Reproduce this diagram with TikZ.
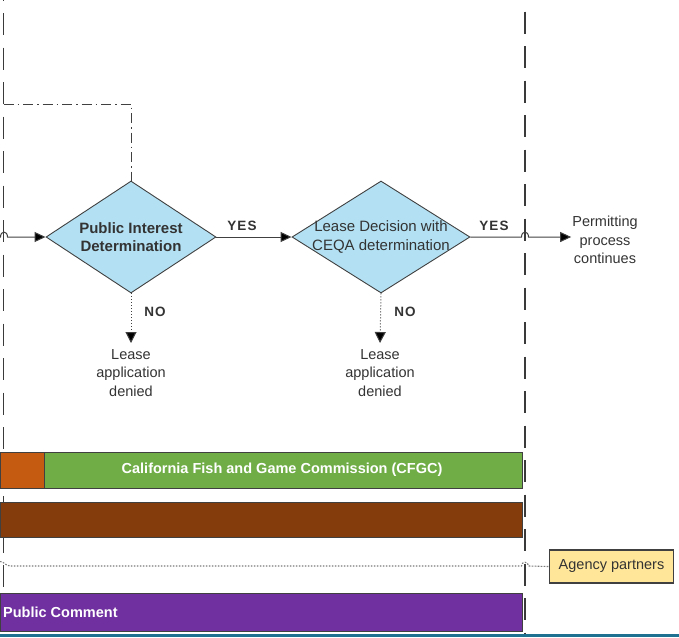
\documentclass[tikz,border=0pt]{standalone}
\usepackage{fontspec}
\setmainfont{Liberation Sans}
\usetikzlibrary{shapes.geometric,arrows.meta}

\definecolor{lanegray}{HTML}{3A3A3A}
\definecolor{edgegray}{HTML}{404040}
\definecolor{txtgray}{HTML}{333333}
\definecolor{dotgray}{HTML}{7A7A7A}
\definecolor{decfill}{HTML}{B3E1F3}
\definecolor{cfgcorange}{HTML}{C55A11}
\definecolor{cfgcgreen}{HTML}{70AD47}
\definecolor{barbrown}{HTML}{843C0C}
\definecolor{barpurple}{HTML}{7030A0}
\definecolor{notefill}{HTML}{FFE699}
\definecolor{tealrule}{HTML}{1E7190}

\begin{document}
\begin{tikzpicture}[x=1pt,y=-1pt,
  txt/.style={font=\fontsize{14.5}{18.5}\selectfont, text=txtgray, align=center, inner sep=0pt},
  dectxt/.style={txt, font=\fontsize{15}{18.5}\selectfont},
  boldtxt/.style={txt, font=\fontsize{15}{18.5}\selectfont\bfseries},
  lbl/.style={inner sep=0pt, text=txtgray, font=\fontsize{13.5}{16}\selectfont\bfseries\addfontfeatures{LetterSpace=8}},
  decision/.style={diamond, draw=edgegray, fill=decfill, line width=0.9pt, inner sep=0pt},
  lane/.style={draw=lanegray, line width=1.3pt, dash pattern=on 22pt off 12.5pt},
  dashdot/.style={draw=edgegray, line width=1pt, dash pattern=on 10pt off 4pt on 1.5pt off 4pt},
  flow/.style={draw=edgegray, line width=1pt, -{Triangle[length=11pt,width=10pt,fill=black]}},
  noflow/.style={draw=edgegray, line width=1pt, dotted, -{Triangle[length=11pt,width=11pt,fill=black]}},
  bar/.style={rectangle, draw=edgegray, line width=1pt, anchor=north west, inner sep=0pt},
  bartext/.style={text=white, font=\fontsize{14.5}{17}\selectfont\bfseries, inner sep=0pt},
  note/.style={rectangle, draw=edgegray, fill=notefill, line width=1.3pt, inner sep=0pt,
               font=\fontsize{14.5}{17}\selectfont, text=txtgray}
]
\useasboundingbox (0,0) rectangle (679,637);

% swimlane boundaries
\coordinate (laneLtop) at (3.5,0);
\coordinate (laneLbot) at (3.5,600);
\coordinate (laneRtop) at (525,-1);
\coordinate (laneRbot) at (525,637);
\draw[lane, dash phase=-13] (laneLtop) -- (laneLbot);
\draw[lane, dash phase=-12.5] (laneRtop) -- (laneRbot);

% decisions
\node[decision, minimum width=170pt, minimum height=112pt] (d1) at (131,237) {};
\node[boldtxt] (d1t) at (131,237) {Public Interest\\Determination};
\node[decision, minimum width=178pt, minimum height=112pt] (d2) at (381,237) {};
\node[dectxt] (d2t) at (381,237) {Lease Decision with\\CEQA determination};

% feedback from upper stage
\coordinate (fbA) at (3.5,104);
\coordinate (fbB) at (131,104);
\draw[dashdot] (fbA) -- (fbB) -- (d1.north);

% main flow
\coordinate (inStart) at (0,237);
\draw[flow] (inStart) -- (0.5,237) .. controls (0.5,230.5) and (7.5,230.5) .. (7.5,237) -- (d1.west);
\draw[flow] (d1.east) -- (d2.west);
\node[lbl] (yes1) at (242,226) {YES};
\node[txt] (cont) at (605,240) {Permitting\\process\\continues};
\draw[flow] (d2.east) -- (521.5,237) .. controls (521.5,230.5) and (528.5,230.5) .. (528.5,237) -- ([xshift=-1pt]cont.west |- 0,237);
\node[lbl] (yes2) at (494,226) {YES};

% denials
\node[txt] (den1) at (131,373) {Lease\\application\\denied};
\node[txt] (den2) at (380,373) {Lease\\application\\denied};
\draw[noflow] (d1.south) -- (131,343);
\draw[noflow] (d2.south) -- (380,343);
\node[lbl] (no1) at (155,312) {NO};
\node[lbl] (no2) at (405,312) {NO};

% agency bars
\node[bar, fill=cfgcorange, minimum width=44pt, minimum height=36pt] (orng) at (0,452) {};
\node[bar, fill=cfgcgreen, minimum width=478pt, minimum height=36pt] (cfgc) at (44,452) {};
\node[bartext] (cfgct) at (282,470) {California Fish and Game Commission (CFGC)};
\node[bar, fill=barbrown, minimum width=522pt, minimum height=35pt] (brown) at (0,502) {};

% agency partners link
\node[note, minimum width=124pt, minimum height=33pt] (agency) at (611.5,566.5) {\raisebox{-1pt}{Agency partners}};
\coordinate (linkStart) at (0,561.5);
\draw[draw=dotgray, line width=1.1pt, dash pattern=on 1.6pt off 1.4pt]
  (linkStart) .. controls (3,561) and (6,566) .. (10,566) -- (521.5,566)
  .. controls (521.5,561) and (528.5,561) .. (528.5,566) -- (agency.west);

% public comment bar
\node[bar, fill=barpurple, minimum width=522pt, minimum height=38pt] (pub) at (0,593) {};
\node[bartext, anchor=west] (pubt) at (3,612) {Public Comment};

% bottom rule
\fill[tealrule] (0,634) rectangle (679,637);
\end{tikzpicture}
\end{document}
